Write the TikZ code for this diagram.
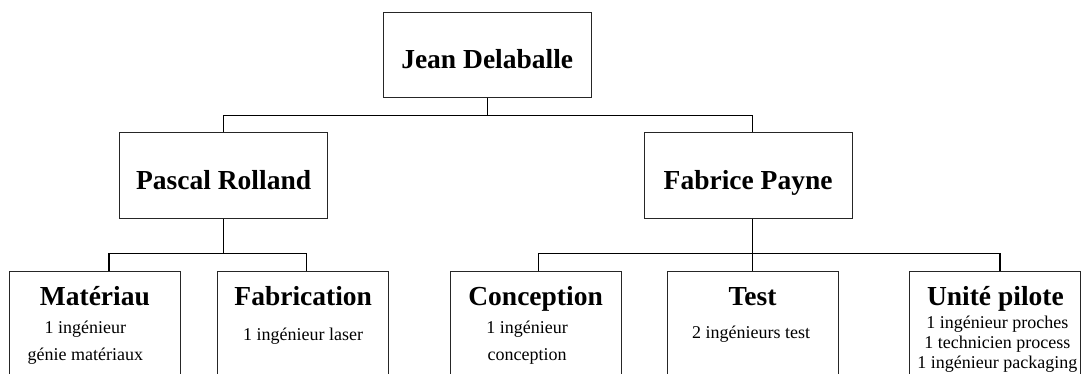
\documentclass[tikz,border=0pt]{standalone}
\usepackage{fontspec}
\setmainfont{Liberation Serif}
\usetikzlibrary{positioning}

\begin{document}
\begin{tikzpicture}[chef/.style={rectangle,draw=black!85,line width=0.9pt,minimum width=207.7pt,minimum height=85.5pt,inner sep=0pt,text height=27.5pt,text depth=0pt,font=\bfseries\fontsize{27.5}{30}\selectfont},
    unite/.style={rectangle,draw=black!85,line width=0.9pt,minimum width=171pt,inner sep=0pt,text height=34.7pt,text depth=110pt,font=\bfseries\fontsize{27.5}{30}\selectfont},
    staff/.style={inner sep=0pt,align=center,anchor=north,font=\fontsize{18}{27.3}\selectfont},
    link/.style={line width=1.2pt}]

    \useasboundingbox (0,0) rectangle (1082pt,-374pt);

    %--------------------------------------------
    % Nodes
    \node[chef] (jean) at (487.2pt,-54.8pt) {Jean Delaballe};

    \node[chef,below left=34.4pt and 55pt of jean] (pascal) {Pascal Rolland};

    \node[chef,below right=34.4pt and 52.3pt of jean] (fabrice) {Fabrice Payne};

    \node[unite,below=52pt of pascal,xshift=-128.7pt] (materiau) {Matériau};

    \node[unite,right=36.4pt of materiau] (fabrication) {Fabrication};

    \node[unite,below=52pt of fabrice,xshift=-212.5pt] (conception) {Conception};

    \node[unite,right=45pt of conception] (test) {Test};

    \node[unite,right=71pt of test] (pilote) {Unité pilote};

    %--------------------------------------------
    % Staff of each unit
    \node[staff] (materiauTxt) at ([xshift=-9.5pt,yshift=-14.5pt] materiau.base) {1 ingénieur\\génie matériaux};

    \node[staff] (fabricationTxt) at ([yshift=-22.2pt] fabrication.base) {1 ingénieur laser};

    \node[staff] (conceptionTxt) at ([xshift=-8.5pt,yshift=-14.5pt] conception.base) {1 ingénieur\\conception};

    \node[staff] (testTxt) at ([xshift=-1.5pt,yshift=-19.8pt] test.base) {2 ingénieurs test};

    \node[staff,font=\fontsize{18}{20}\selectfont] (piloteTxt) at ([xshift=2pt,yshift=-9.5pt] pilote.base) {1 ingénieur proches\\1 technicien process\\1 ingénieur packaging};

    %--------------------------------------------
    % Links
    \draw[link] (jean.south) -- ++(0,-17.7pt) -| (pascal.north);
    \draw[link] (jean.south) -- ++(0,-17.7pt) -| ([xshift=4.5pt] fabrice.north);

    \draw[link] (pascal.south) -- ++(0,-34.7pt) -| ([xshift=14pt] materiau.north);
    \draw[link] (pascal.south) -- ++(0,-34.7pt) -| ([xshift=3.5pt] fabrication.north);

    \draw[link] ([xshift=4.5pt] fabrice.south) -- ++(0,-34.7pt) -| ([xshift=3pt] conception.north);
    \draw[link] ([xshift=4.5pt] fabrice.south) -- ++(0,-34.7pt) -| (test.north);
    \draw[link] ([xshift=4.5pt] fabrice.south) -- ++(0,-34.7pt) -| ([xshift=4.5pt] pilote.north);
\end{tikzpicture}
\end{document}
